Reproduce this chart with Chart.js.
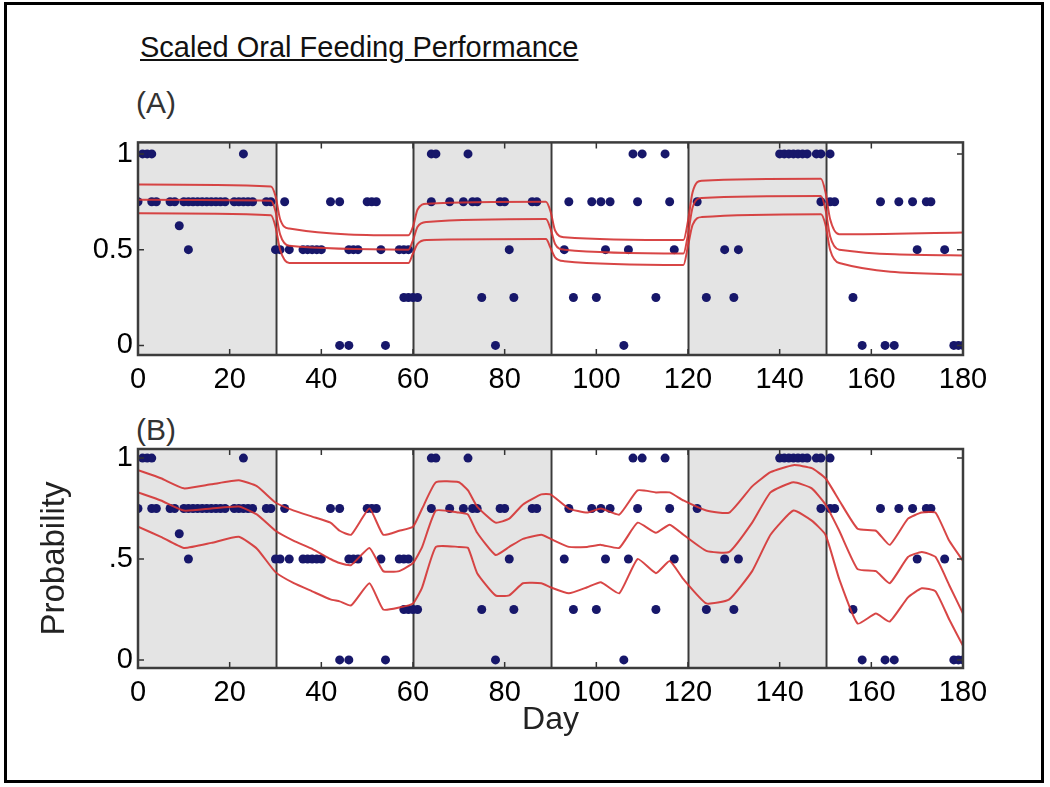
<!DOCTYPE html>
<html>
<head>
<meta charset="utf-8">
<script src="https://cdn.jsdelivr.net/npm/chart.js@4.4.1/dist/chart.umd.min.js"></script>
<style>
body { margin: 0; background: #fff; }
#wrap { position: relative; width: 1050px; height: 787px; overflow: hidden; font-family: 'Liberation Sans', Arial, sans-serif; }
#frame { position: absolute; left: 4px; top: 2px; width: 1040px; height: 781px; border: 3px solid #000; box-sizing: border-box; }
#title { position: absolute; left: 140px; top: 33px; font-size: 29px; line-height: 1; text-decoration: underline; color: #111; }
.tag { position: absolute; font-size: 30px; line-height: 1; color: #333; }
canvas { position: absolute; left: 0; }
</style>
</head>
<body>
<div id="wrap">
	<div id="frame"></div>
	<div id="title">Scaled Oral Feeding Performance</div>
	<div class="tag" style="left:136px;top:88px;">(A)</div>
	<div class="tag" style="left:136px;top:415px;">(B)</div>
	<canvas id="chartA" width="1050" height="280" style="top:120px;width:1050px;height:280px;"></canvas>
	<canvas id="chartB" width="1050" height="330" style="top:420px;width:1050px;height:330px;"></canvas>
</div>
<script>
// days of the month blocks, shaded = first/third/fifth
var xTicks = [0, 20, 40, 60, 80, 100, 120, 140, 160, 180];
var shaded = [[0, 30], [60, 90], [120, 150]];

// observed daily scores (same in both panels)
var obsDays = [
	1, 2, 3, 23, 64, 65, 72, 108, 110, 115, 140, 141, 142, 143, 144, 145, 146, 148, 149, 151,
	0, 3, 4, 7, 8, 10, 11, 12, 13, 14, 15, 16, 17, 18, 19, 21, 22, 23, 24, 25, 28, 29, 32, 42, 44, 50, 51, 52,
	64, 68, 71, 73, 74, 79, 80, 86, 87, 94, 99, 101, 103, 109, 116, 122, 149, 151, 152, 162, 166, 169, 172, 173,
	9,
	11, 30, 31, 33, 36, 37, 38, 39, 40, 46, 47, 48, 53, 57, 58, 59, 81, 93, 102, 107, 117, 128, 131, 170, 176,
	58, 59, 60, 61, 75, 82, 95, 100, 113, 124, 130, 156,
	44, 46, 54, 78, 106, 158, 163, 165, 178, 179, 180
];
var obsVals = [
	1, 1, 1, 1, 1, 1, 1, 1, 1, 1, 1, 1, 1, 1, 1, 1, 1, 1, 1, 1,
	0.75, 0.75, 0.75, 0.75, 0.75, 0.75, 0.75, 0.75, 0.75, 0.75, 0.75, 0.75, 0.75, 0.75, 0.75, 0.75, 0.75, 0.75, 0.75, 0.75, 0.75, 0.75, 0.75, 0.75, 0.75, 0.75, 0.75, 0.75,
	0.75, 0.75, 0.75, 0.75, 0.75, 0.75, 0.75, 0.75, 0.75, 0.75, 0.75, 0.75, 0.75, 0.75, 0.75, 0.75, 0.75, 0.75, 0.75, 0.75, 0.75, 0.75, 0.75, 0.75,
	0.625,
	0.5, 0.5, 0.5, 0.5, 0.5, 0.5, 0.5, 0.5, 0.5, 0.5, 0.5, 0.5, 0.5, 0.5, 0.5, 0.5, 0.5, 0.5, 0.5, 0.5, 0.5, 0.5, 0.5, 0.5, 0.5,
	0.25, 0.25, 0.25, 0.25, 0.25, 0.25, 0.25, 0.25, 0.25, 0.25, 0.25, 0.25,
	0, 0, 0, 0, 0, 0, 0, 0, 0, 0, 0
];

// (A) block model: estimate and bounds
var aDays  = [0, 29, 30, 31, 33, 59, 60, 61, 63, 89, 90, 91, 93, 119, 120, 121, 123, 149, 150, 151, 153, 180];
var aUpper = [0.84, 0.83, 0.78, 0.66, 0.61, 0.575, 0.62, 0.71, 0.74, 0.75, 0.70, 0.60, 0.565, 0.55, 0.65, 0.80, 0.86, 0.87, 0.80, 0.66, 0.58, 0.59];
var aMid   = [0.76, 0.755, 0.70, 0.58, 0.52, 0.50, 0.55, 0.62, 0.645, 0.66, 0.61, 0.53, 0.50, 0.48, 0.58, 0.72, 0.77, 0.78, 0.71, 0.57, 0.50, 0.47];
var aLower = [0.69, 0.68, 0.62, 0.50, 0.43, 0.43, 0.48, 0.53, 0.55, 0.555, 0.51, 0.46, 0.44, 0.42, 0.52, 0.63, 0.67, 0.685, 0.63, 0.50, 0.43, 0.37];

// (B) smooth model: estimate and bounds
var bDays  = [0, 5, 10, 16, 22, 26, 30, 34, 38, 42, 44, 46.5, 50.5, 53.5, 57, 60, 62, 65, 70, 72, 74, 78, 81, 84, 88, 90, 94, 98, 101, 105, 109, 113, 116, 119, 124, 129, 134, 138, 143, 147, 150, 153, 157, 161, 164, 168, 171, 174, 177, 180];
var bUpper = [0.94, 0.90, 0.85, 0.87, 0.89, 0.86, 0.78, 0.74, 0.71, 0.68, 0.64, 0.62, 0.75, 0.62, 0.64, 0.66, 0.75, 0.88, 0.88, 0.84, 0.76, 0.68, 0.70, 0.77, 0.82, 0.82, 0.75, 0.73, 0.75, 0.72, 0.84, 0.83, 0.83, 0.79, 0.74, 0.73, 0.86, 0.93, 0.965, 0.95, 0.90, 0.79, 0.65, 0.64, 0.57, 0.70, 0.73, 0.73, 0.59, 0.49];
var bMid   = [0.83, 0.79, 0.74, 0.75, 0.76, 0.72, 0.64, 0.59, 0.55, 0.50, 0.48, 0.47, 0.555, 0.44, 0.44, 0.48, 0.56, 0.74, 0.73, 0.72, 0.63, 0.52, 0.56, 0.60, 0.62, 0.60, 0.56, 0.56, 0.57, 0.555, 0.68, 0.63, 0.67, 0.62, 0.54, 0.535, 0.68, 0.83, 0.88, 0.85, 0.77, 0.64, 0.45, 0.44, 0.38, 0.51, 0.535, 0.51, 0.37, 0.23];
var bLower = [0.66, 0.61, 0.555, 0.58, 0.61, 0.55, 0.435, 0.38, 0.34, 0.30, 0.29, 0.27, 0.38, 0.25, 0.26, 0.28, 0.36, 0.56, 0.56, 0.555, 0.43, 0.32, 0.32, 0.38, 0.38, 0.36, 0.33, 0.36, 0.385, 0.33, 0.50, 0.43, 0.49, 0.40, 0.28, 0.30, 0.44, 0.62, 0.74, 0.69, 0.62, 0.40, 0.18, 0.23, 0.19, 0.31, 0.355, 0.34, 0.20, 0.07];

var yTicks = [0, 0.5, 1];
var yLabelsA = ['0', '0.5', '1'];
var yLabelsB = ['0', '.5', '1'];

var tickFont = { family: "'Liberation Sans', Arial, sans-serif", size: 29 };

function pts(xs, ys) {
	var out = [];
	for (var i = 0; i < xs.length; i++) {
		out.push({ x: xs[i], y: ys[i] });
	}
	return out;
}

var panelDecor = {
	id: 'panelDecor',
	beforeDatasetsDraw: function(chart) {
		var ctx = chart.ctx, a = chart.chartArea, sx = chart.scales.x;
		ctx.save();
		ctx.fillStyle = '#e4e4e4';
		shaded.forEach(function(s) {
			var l = sx.getPixelForValue(s[0]), r = sx.getPixelForValue(s[1]);
			ctx.fillRect(l, a.top, r - l, a.bottom - a.top);
		});
		ctx.strokeStyle = '#3a3a3a';
		ctx.lineWidth = 2;
		shaded.forEach(function(s) {
			s.forEach(function(d) {
				if (d <= 0 || d >= 180) return;
				var p = Math.round(sx.getPixelForValue(d)) + 0.5;
				ctx.beginPath();
				ctx.moveTo(p, a.top);
				ctx.lineTo(p, a.bottom);
				ctx.stroke();
			});
		});
		ctx.restore();
	},
	afterDraw: function(chart) {
		var ctx = chart.ctx, a = chart.chartArea, sx = chart.scales.x, sy = chart.scales.y;
		ctx.save();
		ctx.strokeStyle = '#333';
		ctx.lineWidth = 1.5;
		xTicks.forEach(function(t) {
			var p = sx.getPixelForValue(t);
			ctx.beginPath();
			ctx.moveTo(p, a.bottom); ctx.lineTo(p, a.bottom - 6);
			ctx.moveTo(p, a.top); ctx.lineTo(p, a.top + 6);
			ctx.stroke();
		});
		yTicks.forEach(function(t) {
			var p = sy.getPixelForValue(t);
			ctx.beginPath();
			ctx.moveTo(a.left, p); ctx.lineTo(a.left + 6, p);
			ctx.moveTo(a.right, p); ctx.lineTo(a.right - 6, p);
			ctx.stroke();
		});
		ctx.strokeStyle = '#3c3c3c';
		ctx.lineWidth = 2.5;
		ctx.strokeRect(a.left, a.top, a.right - a.left, a.bottom - a.top);
		ctx.restore();
	}
};

function redLine(xs, ys, tension) {
	return {
		data: pts(xs, ys),
		showLine: true,
		borderColor: 'rgba(212, 50, 50, 0.9)',
		borderWidth: 2,
		pointRadius: 0,
		tension: tension
	};
}

function buildChart(id, lines, tension, yMin, yMax, yLabels, pad, xHeight, xTitle, yTitle) {
	var datasets = [
		redLine(lines[0][0], lines[0][1], tension),
		redLine(lines[1][0], lines[1][1], tension),
		redLine(lines[2][0], lines[2][1], tension),
		{
			data: pts(obsDays, obsVals),
			pointRadius: 4.5,
			pointBackgroundColor: '#17176a',
			pointBorderColor: '#17176a',
			pointBorderWidth: 0
		}
	];
	return new Chart(document.getElementById(id), {
		type: 'scatter',
		data: { datasets: datasets },
		options: {
			responsive: false,
			animation: false,
			layout: { padding: { top: pad, right: 87, left: 0, bottom: 0 } },
			plugins: { legend: { display: false }, tooltip: { enabled: false } },
			scales: {
				x: {
					type: 'linear',
					min: 0,
					max: 180,
					grid: { display: false, drawTicks: false },
					border: { display: false },
					afterBuildTicks: function(s) { s.ticks = xTicks.map(function(v) { return { value: v }; }); },
					afterFit: function(s) { s.height = xHeight; },
					ticks: { font: tickFont, color: '#000', padding: 8, maxRotation: 0 },
					title: xTitle
				},
				y: {
					min: yMin,
					max: yMax,
					grid: { display: false, drawTicks: false },
					border: { display: false },
					afterBuildTicks: function(s) { s.ticks = yTicks.map(function(v) { return { value: v }; }); },
					afterFit: function(s) { s.width = 138; },
					ticks: {
						font: tickFont,
						color: '#000',
						padding: 5,
						callback: function(v) { return yLabels[yTicks.indexOf(v)]; }
					},
					title: yTitle
				}
			}
		},
		plugins: [panelDecor]
	});
}

// A: block steps, monotone so the plateaus stay flat
var chartA = buildChart('chartA',
	[[aDays, aUpper], [aDays, aMid], [aDays, aLower]], 0,
	-0.05, 1.06, yLabelsA, 16, 45,
	{ display: false },
	{ display: false });
chartA.data.datasets.slice(0, 3).forEach(function(d) { d.tension = 0.4; d.cubicInterpolationMode = 'monotone'; });
chartA.update();

buildChart('chartB',
	[[bDays, bUpper], [bDays, bMid], [bDays, bLower]], 0.15,
	-0.04, 1.045, yLabelsB, 29, 82,
	{ display: true, text: 'Day', color: '#222', font: { family: "'Liberation Sans', Arial, sans-serif", size: 32 }, padding: { top: 0, bottom: 11 } },
	{ display: true, text: 'Probability', color: '#222', font: { family: "'Liberation Sans', Arial, sans-serif", size: 33 }, padding: { top: 35, bottom: 0 } });
</script>
</body>
</html>
